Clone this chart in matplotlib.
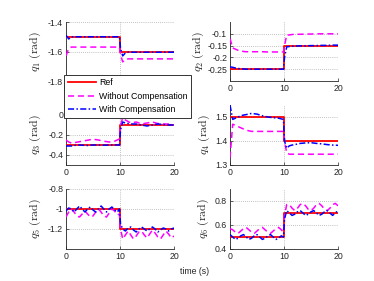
import matplotlib
matplotlib.use("Agg")
import matplotlib.pyplot as plt

plt.rcParams['font.family'] = ['Liberation Sans', 'DejaVu Sans']
plt.rcParams['mathtext.fontset'] = 'cm'

# ---------------- data ----------------
t_ref = [0, 10, 10, 20]
ref_q1 = [-1.5, -1.5, -1.6, -1.6]
ref_q2 = [-0.25, -0.25, -0.15, -0.15]
ref_q3 = [-0.3, -0.3, -0.1, -0.1]
ref_q4 = [1.5, 1.5, 1.4, 1.4]
ref_q5 = [-1.0, -1.0, -1.2, -1.2]
ref_q6 = [0.5, 0.5, 0.7, 0.7]

# sparse time samples for smooth responses
t_s = [0, 0.5, 1, 1.5, 2, 2.5, 3, 4, 5, 6, 7, 8, 9, 9.9,
       10.1, 10.5, 11, 11.5, 12, 13, 14, 15, 16, 17, 18, 19, 20]

wo_q1 = [-1.63, -1.58, -1.57, -1.57, -1.57, -1.57, -1.57, -1.57, -1.57, -1.57, -1.57, -1.57, -1.57, -1.57,
         -1.62, -1.67, -1.655, -1.65, -1.65, -1.65, -1.65, -1.65, -1.65, -1.65, -1.65, -1.65, -1.65]
wc_q1 = [-1.49, -1.515, -1.5, -1.5, -1.5, -1.5, -1.5, -1.5, -1.5, -1.5, -1.5, -1.5, -1.5, -1.5,
         -1.58, -1.63, -1.61, -1.605, -1.605, -1.605, -1.605, -1.605, -1.605, -1.605, -1.605, -1.605, -1.605]

wo_q2 = [-0.12, -0.16, -0.165, -0.17, -0.173, -0.175, -0.176, -0.176, -0.176, -0.176, -0.177, -0.177, -0.177, -0.177,
         -0.15, -0.105, -0.105, -0.103, -0.102, -0.102, -0.101, -0.101, -0.1, -0.1, -0.1, -0.1, -0.1]
wc_q2 = [-0.24, -0.242, -0.245, -0.247, -0.248, -0.249, -0.25, -0.25, -0.25, -0.25, -0.25, -0.25, -0.25, -0.25,
         -0.2, -0.155, -0.154, -0.153, -0.152, -0.151, -0.151, -0.15, -0.15, -0.149, -0.149, -0.148, -0.148]

wo_q3 = [-0.25, -0.27, -0.28, -0.277, -0.272, -0.267, -0.262, -0.252, -0.242, -0.25, -0.262, -0.27, -0.262, -0.24,
         -0.1, -0.03, -0.05, -0.065, -0.08, -0.07, -0.09, -0.08, -0.07, -0.085, -0.09, -0.09, -0.1]
wc_q3 = [-0.31, -0.31, -0.31, -0.305, -0.3, -0.3, -0.302, -0.305, -0.3, -0.3, -0.302, -0.3, -0.3, -0.3,
         -0.15, -0.07, -0.08, -0.085, -0.09, -0.09, -0.1, -0.11, -0.1, -0.09, -0.095, -0.1, -0.1]

wo_q4 = [1.33, 1.47, 1.465, 1.46, 1.455, 1.45, 1.445, 1.44, 1.44, 1.44, 1.44, 1.44, 1.44, 1.44,
         1.40, 1.35, 1.345, 1.345, 1.345, 1.345, 1.345, 1.345, 1.345, 1.345, 1.345, 1.345, 1.345]
wc_q4 = [1.55, 1.49, 1.495, 1.5, 1.505, 1.508, 1.51, 1.515, 1.512, 1.505, 1.5, 1.497, 1.495, 1.49,
         1.40, 1.37, 1.38, 1.383, 1.385, 1.39, 1.392, 1.393, 1.39, 1.388, 1.385, 1.383, 1.382]

# dense time samples for oscillating responses
t_d = [0, 0.5, 1, 1.5, 2, 2.5, 3, 3.5, 4, 4.5, 5, 5.5, 6, 6.5, 7, 7.5, 8, 8.5, 9, 9.5, 9.9,
       10.1, 10.5, 11, 11.5, 12, 12.5, 13, 13.5, 14, 14.5, 15, 15.5, 16, 16.5, 17, 17.5, 18, 18.5, 19, 19.5, 20]

wo_q5 = [-1.08, -1.03, -1.0, -1.03, -1.07, -1.08, -1.05, -1.02, -1.05, -1.08, -1.07, -1.03, -1.0, -1.03,
         -1.07, -1.08, -1.04, -1.0, -1.02, -1.06, -1.05,
         -1.2, -1.3, -1.26, -1.22, -1.26, -1.3, -1.27, -1.23, -1.22, -1.26, -1.29, -1.25, -1.21, -1.24,
         -1.28, -1.3, -1.26, -1.22, -1.25, -1.29, -1.27]
wc_q5 = [-1.02, -0.99, -1.0, -1.03, -1.0, -0.97, -1.0, -1.03, -1.0, -0.98, -1.01, -1.03, -1.0, -0.97,
         -1.0, -1.03, -1.0, -0.98, -1.01, -1.03, -1.0,
         -1.15, -1.2, -1.22, -1.19, -1.18, -1.21, -1.23, -1.2, -1.18, -1.2, -1.22, -1.2, -1.18, -1.2,
         -1.23, -1.21, -1.19, -1.2, -1.22, -1.2, -1.19]

wo_q6 = [0.57, 0.56, 0.54, 0.53, 0.55, 0.57, 0.58, 0.56, 0.54, 0.53, 0.55, 0.57, 0.58, 0.56,
         0.54, 0.53, 0.55, 0.57, 0.58, 0.56, 0.54,
         0.68, 0.77, 0.77, 0.74, 0.72, 0.74, 0.77, 0.78, 0.76, 0.73, 0.72, 0.74, 0.77, 0.78,
         0.76, 0.73, 0.72, 0.74, 0.77, 0.78, 0.76]
wc_q6 = [0.52, 0.5, 0.48, 0.49, 0.51, 0.52, 0.5, 0.48, 0.49, 0.51, 0.52, 0.5, 0.48, 0.49,
         0.51, 0.52, 0.5, 0.48, 0.49, 0.51, 0.5,
         0.65, 0.72, 0.7, 0.68, 0.69, 0.71, 0.72, 0.7, 0.68, 0.69, 0.71, 0.72, 0.7, 0.68,
         0.69, 0.71, 0.72, 0.7, 0.68, 0.7, 0.72]

labels = ["Ref", "Without Compensation", "With Compensation"]
xticks = [0, 10, 20]

panels = [
    (ref_q1, t_s, wo_q1, wc_q1, (-1.8, -1.4), [-1.8, -1.6, -1.4], ["-1.8", "-1.6", "-1.4"], "1"),
    (ref_q2, t_s, wo_q2, wc_q2, (-0.3, -0.05), [-0.25, -0.2, -0.15, -0.1],
     ["-0.25", "-0.2", "-0.15", "-0.1"], "2"),
    (ref_q3, t_s, wo_q3, wc_q3, (-0.5, 0.1), [-0.4, -0.2, 0], ["-0.4", "-0.2", "0"], "3"),
    (ref_q4, t_s, wo_q4, wc_q4, (1.3, 1.55), [1.3, 1.4, 1.5], ["1.3", "1.4", "1.5"], "4"),
    (ref_q5, t_d, wo_q5, wc_q5, (-1.4, -0.8), [-1.2, -1.0, -0.8], ["-1.2", "-1", "-0.8"], "5"),
    (ref_q6, t_d, wo_q6, wc_q6, (0.4, 0.9), [0.4, 0.6, 0.8], ["0.4", "0.6", "0.8"], "6"),
]

W, H = 374, 281
fig = plt.figure(figsize=(W / 100, H / 100), dpi=100)

col_x = [66, 230]
row_y = [(22, 81), (105, 165), (189, 249)]
ax_w = 108
lab_right = [43, 206, 43, 212, 43, 211]

first_lines = None
for i, (ref, tt, wo, wc, ylim, yt, ytl, name) in enumerate(panels):
    r, c = divmod(i, 2)
    top, bot = row_y[r]
    ax = fig.add_axes([col_x[c] / W, 1 - bot / H, ax_w / W, (bot - top) / H])
    l1, = ax.plot(t_ref, ref, color=(1, 0, 0), lw=1.3, zorder=3)
    l2, = ax.plot(tt, wo, color=(1, 0, 1), lw=1.1, ls=(0, (4, 2.5)), zorder=4)
    l3, = ax.plot(tt, wc, color=(0, 0, 1), lw=1.1, ls=(0, (4, 1.5, 1, 1.5)), zorder=5)
    if first_lines is None:
        first_lines = [l1, l2, l3]
    ax.set_xlim(0, 20)
    ax.set_ylim(*ylim)
    ax.set_xticks(xticks)
    ax.set_yticks(yt)
    ax.set_yticklabels(ytl)
    ax.grid(True, ls=(0, (1, 2)), color='0.55', lw=0.5)
    ax.set_axisbelow(True)
    for s in ['top', 'right']:
        ax.spines[s].set_visible(False)
    for s in ['left', 'bottom']:
        ax.spines[s].set_color('0.15')
        ax.spines[s].set_linewidth(0.6)
    ax.tick_params(direction='in', length=2, width=0.5, labelsize=6.3, colors='0.15', pad=2)
    ax.set_ylabel(r"$q_{%s}\ (\mathrm{rad})$" % name, fontsize=8.5, color='0.15')
    ax.yaxis.set_label_coords((lab_right[i] - col_x[c]) / ax_w, 0.5)

leg = fig.legend(first_lines, labels, loc='upper left',
                 bbox_to_anchor=(64 / W, 1 - 75 / H), borderaxespad=0,
                 fontsize=6.3, handlelength=3.2, handletextpad=0.4,
                 labelspacing=0.5, borderpad=0.4, fancybox=False,
                 framealpha=1, edgecolor='0.2')
leg.get_frame().set_linewidth(0.7)

fig.text(195 / W, 1 - 272 / H, "time (s)", ha='center', va='center', fontsize=6.3, color='0.15')

fig.savefig("out.png", dpi=100)
